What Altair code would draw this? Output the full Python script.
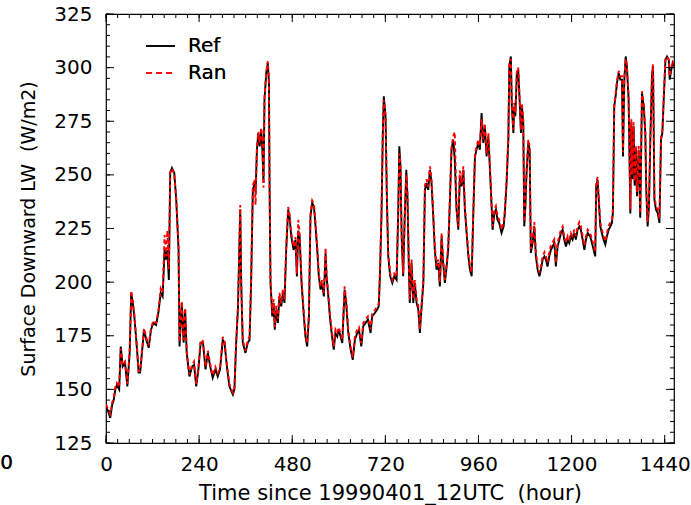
import altair as alt
import pandas as pd

# Hours since 1999-04-01 12UTC
hours = [
    0, 5, 11, 16, 20, 24, 28, 34, 38, 43, 49, 55, 61, 65, 69, 73, 80, 84, 88, 95,
    98, 104, 110, 116, 122, 129, 135, 141, 146, 151, 155, 158, 162, 165.5, 170, 176, 181, 187, 189.5, 195.5,
    200, 204, 208, 215, 222, 227, 232.5, 238, 244, 250, 256.5, 262.5, 268.5, 275, 282, 288, 294, 301, 305.5, 311.5,
    318, 327, 331, 335.5, 340, 346, 348.5, 352.5, 359.5, 365.5, 370, 374, 378.5, 383, 385.5, 389, 392.5, 396, 400, 403,
    406, 408.5, 413, 417, 420, 421.5, 424, 428.5, 432, 435, 439, 443, 447, 451.5, 456, 460, 464.5, 469.5, 473, 477.5,
    483.5, 488.5, 492, 495.5, 499, 504, 510, 514, 518.5, 523, 527, 531.5, 536, 540, 544.5, 548.5, 553, 557, 561.5, 566,
    568.5, 573, 577, 581.5, 587, 591.5, 596, 600, 604.5, 609, 615, 619, 624.5, 630.5, 636, 641.5, 647.5, 652, 658, 663,
    669, 675, 682, 686, 693, 699, 703, 706, 710, 713.5, 716, 720.5, 724, 727.5, 732.5, 738, 743, 749, 753, 756,
    759, 762, 766, 770, 774, 777, 780.5, 783, 787.5, 792, 796, 800.5, 805, 809, 813, 818, 822, 826, 830.5, 835,
    839, 843.5, 847.5, 852, 856.5, 860.5, 865, 869, 873.5, 878, 882, 886.5, 890.5, 895, 899, 903.5, 908, 912, 916.5, 921,
    925, 929.5, 934, 938, 942.5, 946.5, 951, 955, 959.5, 963.5, 968, 972.5, 976.5, 981, 985.5, 988, 992, 996.5, 1001, 1005,
    1009, 1013.5, 1019.5, 1025, 1028, 1032.5, 1037, 1039.5, 1043.5, 1046, 1050, 1052, 1055, 1059, 1062.5, 1066, 1069.5, 1072, 1075.5, 1078,
    1081, 1084, 1088.5, 1092, 1095, 1099.5, 1104, 1108, 1112.5, 1117, 1121, 1125.5, 1130, 1134, 1138, 1142.5, 1146.5, 1151, 1155.5, 1159.5,
    1164, 1168.5, 1172.5, 1177, 1181, 1185.5, 1190, 1194, 1198, 1202.5, 1207, 1211, 1215.5, 1220, 1224, 1228.5, 1233, 1237, 1241.5, 1248,
    1252.5, 1257, 1261, 1263.5, 1267, 1270, 1274, 1278, 1282.5, 1287, 1291, 1295.5, 1300, 1304, 1306.5, 1310, 1313.5, 1317, 1321.5, 1325.5,
    1330, 1332.5, 1336, 1339.5, 1342.5, 1347, 1351.5, 1354, 1356.5, 1360, 1362.5, 1366, 1368.5, 1373, 1377, 1381.5, 1386, 1390, 1392.5, 1396,
    1399.5, 1403, 1407.5, 1410, 1413.5, 1417.5, 1422, 1426.5, 1430.5, 1434, 1437.5, 1442, 1446, 1450.5, 1453, 1457, 1460.5, 1464,
]

# Reference surface downward longwave (W/m2)
ref = [
    142, 140, 136.7, 143, 145, 150, 152, 150, 170, 160.7, 162.4, 151.4, 167, 195, 190.4, 184, 168.5, 157.8, 157.8, 171.8,
    177.8, 173, 169.4, 177.8, 181, 180, 185.7, 195, 193.3, 215, 210.5, 215, 201, 250.9, 253.2, 250.9, 238.4, 215, 170, 190.3,
    171.8, 187.2, 167, 156, 160.7, 161.5, 151.4, 159, 171.8, 171.8, 159.3, 167, 160.7, 155.4, 159.3, 156, 159.3, 173, 171.8, 160.7,
    151.4, 147.5, 150, 171.6, 187.2, 233.8, 199.6, 171.8, 167, 171.8, 173, 199.6, 243, 246.2, 241.5, 261.7, 269.5, 263.3, 271, 261.7,
    246.2, 285, 297.5, 302.2, 292.8, 246.2, 199.6, 184, 190.3, 177.8, 187.2, 181, 193.3, 188.7, 195, 190.3, 215, 233.8, 230.6, 221.3,
    215, 219.8, 202.6, 224, 221.3, 199.6, 184, 174.7, 170, 184, 230.6, 236.9, 235.3, 226, 215, 202.7, 196.5, 199.6, 193.3, 213.5,
    202.7, 193.3, 184, 176.3, 168.5, 176.3, 174.7, 177.8, 174.7, 171.6, 196.5, 190.3, 176.3, 168.5, 163.8, 173, 176.3, 177.8, 170, 179.4,
    181, 182.5, 176.3, 184, 185.6, 187.2, 188.7, 202.7, 230.6, 269.5, 286.6, 277.3, 238.4, 212, 202.7, 199.6, 202.7, 201, 230.6, 263.3,
    254, 221.3, 202.7, 230.6, 252.4, 240, 207.3, 190.3, 208.9, 190.3, 199.6, 190.3, 187.2, 176.3, 187.2, 199.6, 243, 246.2, 243, 252.4,
    246.2, 230.6, 215, 205.8, 208.9, 198, 221.3, 208.9, 199.6, 207.3, 215, 238.4, 261.7, 266.4, 257, 233.8, 224.4, 249.3, 244.6, 252.4,
    233.8, 222.9, 212, 205.8, 202.7, 230.6, 258.6, 261.7, 264.9, 261.7, 278.8, 264.9, 272.6, 258.6, 267.9, 258.6, 243, 224.4, 232.2, 233.8,
    229.1, 227.6, 222.9, 226, 232.2, 246.2, 266.4, 300.6, 305.2, 281.9, 269.5, 281.9, 277.3, 297.5, 299, 285, 269.5, 281.9, 274.2, 226,
    235.3, 250.9, 264.9, 261.7, 213.6, 218.2, 226, 212, 205.8, 202.7, 205.8, 210.5, 212, 210.5, 207.3, 212, 215, 216.6, 218.2, 207.3,
    216.6, 219.8, 222.9, 224.4, 219.8, 216.6, 219.8, 218.2, 221.3, 219.8, 222.9, 219.8, 224.4, 226, 224.4, 219.8, 215, 219.8, 222.9, 221.3,
    218.2, 215, 212, 244.6, 247.7, 238.4, 226, 222.9, 219.8, 217.5, 221.3, 224.4, 226, 227.6, 232.2, 281.9, 286.6, 292.8, 297.5, 294.4,
    294.4, 258.6, 294.4, 305.2, 300.6, 285, 232, 274.2, 248, 272.6, 245, 261.7, 240, 261.7, 230, 288.1, 281.9, 269.5, 243, 226,
    235.3, 266.4, 297.5, 300.6, 238.4, 233.8, 232.2, 227.6, 266.4, 269.5, 285, 303.7, 305.2, 303.7, 294.4, 299, 302.2, 300.6,
]

# Random-parameter run of the same quantity
ran = [
    143, 141, 138.5, 144, 146, 151, 153, 151, 169, 161.5, 163, 152.5, 168, 196, 191, 185, 169.5, 158.5, 158.5, 172.5,
    178.5, 174, 170.5, 178.5, 182, 181, 186.5, 197, 195, 222, 212, 224, 206, 251.5, 253, 250, 239, 217, 172, 191,
    173, 188, 168, 157, 161.5, 163, 152.5, 160, 173, 172.5, 160.5, 168, 162, 156.5, 160.5, 157.5, 160.5, 174.5, 172.5, 162,
    152.5, 148.5, 151, 172.5, 188, 236, 201, 173, 168, 173, 174.5, 201, 245, 248, 236, 263, 270, 265, 272, 265,
    244, 286, 298, 303, 295, 248, 201, 185.5, 192, 179, 189, 183, 195, 190, 196.5, 192, 217, 235, 232, 223,
    216.5, 221, 204, 229, 223, 201, 185.5, 176, 171.5, 185.5, 232, 238, 236.5, 228, 216.5, 204, 198, 201, 195, 216,
    204, 195, 185.5, 178, 170, 178, 176.5, 179, 176, 173, 198, 192, 178, 170, 165, 174.5, 178, 179, 171.5, 181,
    182.5, 184, 178, 185.5, 187, 188.5, 190, 204, 232, 270, 285, 278, 240, 213.5, 204, 201, 204, 202.5, 232, 260,
    256, 223, 204, 232, 250, 242, 209, 192, 210.5, 192, 201, 192, 189, 178, 189, 201, 245, 248, 244.5, 254,
    248, 232, 217, 207.5, 210.5, 200, 223, 210.5, 201, 209, 217, 240, 263, 268, 270, 235.5, 226, 252, 246, 254,
    235.5, 224.5, 213.5, 207.5, 204.5, 232, 260, 263, 266.5, 263.5, 276, 266.5, 274, 260, 269.5, 260.5, 245, 226, 234, 235.5,
    231, 229, 224.5, 228, 234, 248, 268, 302, 304, 283.5, 271, 283.5, 279, 298.5, 300, 286.5, 271, 283.5, 276, 228,
    237, 252.5, 266.5, 263, 215.5, 220, 228, 214, 207.5, 204.5, 207.5, 212, 214, 212, 209, 214, 217, 218.5, 220, 209,
    218.5, 221.5, 224.5, 226, 221.5, 218.5, 221.5, 220, 223, 221.5, 224.5, 221.5, 226, 228, 226, 221.5, 217, 221.5, 224.5, 223,
    220, 217, 214, 246, 249, 240, 228, 224.5, 221.5, 219, 223, 226, 228, 229, 234, 283, 288, 294, 298.5, 296,
    296, 260.5, 296, 304, 301.5, 287, 234, 276, 250, 274.5, 247, 263.5, 242, 263.5, 232, 289, 283.5, 271, 245, 228,
    237, 268, 298.5, 301.5, 240, 235.5, 234, 229.5, 268, 271, 286.5, 304.5, 305, 304, 296, 300, 303, 301.5,
]

# Axis tick positions
x_major = [0, 240, 480, 720, 960, 1200, 1440]
x_minor = list(range(0, 1465, 30))
y_major = [125, 150, 175, 200, 225, 250, 275, 300, 325]
y_minor = list(range(125, 326, 5))

W, H = 568, 429
FONT = "DejaVu Sans"

series = pd.DataFrame({"hour": hours, "ref": ref, "ran": ran})

x_scale = alt.Scale(domain=[0, 1464], nice=False, zero=False)
y_scale = alt.Scale(domain=[125, 325], nice=False, zero=False)

x_axis = alt.Axis(
    values=x_major, format="d", ticks=False, domain=False, grid=False,
    labelFontSize=20, labelFont=FONT, labelColor="black", labelPadding=11,
    labelFlush=False, labelOverlap=False,
    title="Time since 19990401_12UTC\u00a0 (hour)", titleFontSize=21, titleFont=FONT,
    titleFontWeight="normal", titleColor="black", titlePadding=8,
)
y_axis = alt.Axis(
    values=y_major, format="d", ticks=False, domain=False, grid=False,
    labelFontSize=20, labelFont=FONT, labelColor="black", labelPadding=14,
    labelFlush=False, labelOverlap=False,
    title="Surface Downward LW\u00a0 (W/m2)", titleFontSize=19, titleFont=FONT,
    titleFontWeight="normal", titleColor="black", titlePadding=15,
)

base = alt.Chart(series)

ref_line = base.mark_line(color="black", strokeWidth=1.9, clip=True).encode(
    x=alt.X("hour:Q", scale=x_scale, axis=x_axis),
    y=alt.Y("ref:Q", scale=y_scale, axis=y_axis),
)
ran_line = base.mark_line(color="#ff0000", strokeWidth=1.9, strokeDash=[4, 3], clip=True).encode(
    x=alt.X("hour:Q", scale=x_scale),
    y=alt.Y("ran:Q", scale=y_scale),
)

# Inward tick marks on all four sides of the frame
def xticks(values, length):
    df = pd.DataFrame({"t": values})
    bottom = alt.Chart(df).mark_rule(color="black", strokeWidth=1).encode(
        x=alt.X("t:Q", scale=x_scale), y=alt.value(H), y2=alt.value(H - length))
    top = alt.Chart(df).mark_rule(color="black", strokeWidth=1).encode(
        x=alt.X("t:Q", scale=x_scale), y=alt.value(0), y2=alt.value(length))
    return bottom + top

def yticks(values, length):
    df = pd.DataFrame({"t": values})
    left = alt.Chart(df).mark_rule(color="black", strokeWidth=1).encode(
        y=alt.Y("t:Q", scale=y_scale), x=alt.value(0), x2=alt.value(length))
    right = alt.Chart(df).mark_rule(color="black", strokeWidth=1).encode(
        y=alt.Y("t:Q", scale=y_scale), x=alt.value(W), x2=alt.value(W - length))
    return left + right

ticks = xticks(x_minor, 4) + xticks(x_major, 8) + yticks(y_minor, 4) + yticks(y_major, 8)

# Legend
legend_df = pd.DataFrame({"name": ["Ref", "Ran"]})
ref_key = alt.Chart(legend_df).mark_rule(color="black", strokeWidth=1.6).encode(
    x=alt.value(40), x2=alt.value(69), y=alt.value(32))
ran_key = alt.Chart(legend_df).mark_rule(color="#ff0000", strokeWidth=1.6, strokeDash=[6, 4]).encode(
    x=alt.value(40), x2=alt.value(69), y=alt.value(59))
ref_text = alt.Chart(legend_df).mark_text(
    text="Ref", font=FONT, fontSize=20, align="left", baseline="middle", color="black"
).encode(x=alt.value(82), y=alt.value(32))
ran_text = alt.Chart(legend_df).mark_text(
    text="Ran", font=FONT, fontSize=20, align="left", baseline="middle", color="black"
).encode(x=alt.value(82), y=alt.value(59))

# Lone zero at the far left of the tick-label row
zero_text = alt.Chart(legend_df).mark_text(
    text="0", font=FONT, fontSize=20, align="center", baseline="middle", color="black"
).encode(x=alt.value(-99.5), y=alt.value(H + 20))

chart = alt.layer(
    ref_line, ran_line, ticks, ref_key, ran_key, ref_text, ran_text, zero_text
).properties(
    width=W, height=H,
    autosize="none",
    padding={"left": 106, "top": 14, "right": 17, "bottom": 62},
    background="white",
).configure_view(stroke="black", strokeWidth=1.2)

chart.save("out.html", embed_options={"renderer": "svg", "actions": False})
